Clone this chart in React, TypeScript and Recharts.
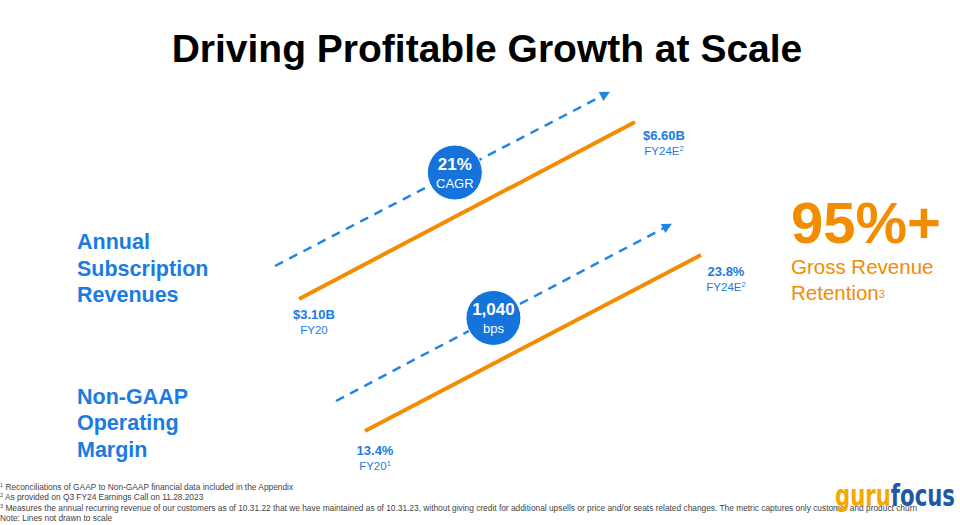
import React from "react";
import { LineChart, Line, XAxis, YAxis, ReferenceDot } from "recharts";

// ---- data ----
const PERIODS = ["FY20", "FY24E"];
const YEARS = [2020, 2024];
const REVENUE = [3.1, 6.6];
const REVENUE_LABELS = ["$3.10B", "$6.60B"];
const REVENUE_NOTES = ["", "2"];
const MARGIN = [13.4, 23.8];
const MARGIN_LABELS = ["13.4%", "23.8%"];
const MARGIN_NOTES = ["1", "2"];
const BADGE_VALUES = ["21%", "1,040"];
const BADGE_UNITS = ["CAGR", "bps"];
const ROW_TITLES = [
  ["Annual", "Subscription", "Revenues"],
  ["Non-GAAP", "Operating", "Margin"],
];
const FOOTNOTES = [
  ["1", "Reconciliations of GAAP to Non-GAAP financial data included in the Appendix"],
  ["2", "As provided on Q3 FY24 Earnings Call on 11.28.2023"],
  [
    "3",
    "Measures the annual recurring revenue of our customers as of 10.31.22 that we have maintained as of 10.31.23, without giving credit for additional upsells or price and/or seats related changes. The metric captures only customer and product churn",
  ],
  ["", "Note: Lines not drawn to scale"],
];

const FONT = "'Liberation Sans', Arial, sans-serif";
const BLUE = "#1a7be2";
const BADGE = "#1474dc";
const DASH = "#1f86e6";
const ORANGE = "#f28c00";

type Pt = [number, number];
interface RowLayout {
  box: { left: number; top: number; right: number; bottom: number };
  line: [Pt, Pt];
  trend: [Pt, Pt];
  badgeAt: number;
  start: { dx: number; dy: number };
  end: { dx: number; dy: number };
}

// where each row sits on the slide (pixels)
const LAYOUTS: RowLayout[] = [
  {
    box: { left: 260, top: 80, right: 720, bottom: 320 },
    line: [[299, 299], [635, 122]],
    trend: [[275, 266], [602, 96]],
    badgeAt: 0.55,
    start: { dx: 15, dy: 20 },
    end: { dx: 29, dy: 18 },
  },
  {
    box: { left: 320, top: 210, right: 780, bottom: 450 },
    line: [[365, 431], [701, 255]],
    trend: [[336, 401], [664, 228]],
    badgeAt: 0.48,
    start: { dx: 10, dy: 24 },
    end: { dx: 25, dy: 21 },
  },
];

// domain value at pixel a and b given two values pinned to two pixels
function domainAt(v0: number, v1: number, p0: number, p1: number, a: number, b: number): [number, number] {
  const k = (p1 - p0) / (v1 - v0);
  return [v0 + (a - p0) / k, v0 + (b - p0) / k];
}

interface RowProps {
  values: number[];
  labels: string[];
  notes: string[];
  badgeValue: string;
  badgeUnit: string;
  layout: RowLayout;
}

function GrowthRow({ values, labels, notes, badgeValue, badgeUnit, layout }: RowProps) {
  const data = YEARS.map((year, i) => ({
    year,
    value: values[i],
    label: labels[i],
    period: PERIODS[i],
    note: notes[i],
  }));
  const { box, line, trend } = layout;
  const margin = { left: box.left, top: box.top, right: 960 - box.right, bottom: 525 - box.bottom };

  const xMain = domainAt(YEARS[0], YEARS[1], line[0][0], line[1][0], box.left, box.right);
  const yMain = domainAt(values[0], values[1], line[0][1], line[1][1], box.bottom, box.top);
  const xTrend = domainAt(YEARS[0], YEARS[1], trend[0][0], trend[1][0], box.left, box.right);
  const yTrend = domainAt(values[0], values[1], trend[0][1], trend[1][1], box.bottom, box.top);

  const dx = trend[1][0] - trend[0][0];
  const dy = trend[1][1] - trend[0][1];
  const len = Math.hypot(dx, dy);
  const ux = dx / len;
  const uy = dy / len;

  const badgeYear = YEARS[0] + (YEARS[1] - YEARS[0]) * layout.badgeAt;
  const badgeVal = values[0] + (values[1] - values[0]) * layout.badgeAt;

  const renderArrow = (p: any) => {
    if (p.index !== data.length - 1) return <g key={`a-${p.index}`} />;
    const { cx, cy } = p;
    const tip = [cx + ux * 9, cy + uy * 9];
    const b1 = [cx - ux * 1 - uy * 5, cy - uy * 1 + ux * 5];
    const b2 = [cx - ux * 1 + uy * 5, cy - uy * 1 - ux * 5];
    return (
      <polygon
        key={`a-${p.index}`}
        points={`${tip[0]},${tip[1]} ${b1[0]},${b1[1]} ${b2[0]},${b2[1]}`}
        fill={DASH}
      />
    );
  };

  const renderLabel = (p: any) => {
    const { cx, cy, index, payload } = p;
    const off = index === 0 ? layout.start : layout.end;
    const x = cx + off.dx;
    const y = cy + off.dy;
    return (
      <g key={`l-${index}`} fontFamily={FONT}>
        <text x={x} y={y} textAnchor="middle" fontSize={13} fontWeight={700} fill={BLUE}>
          {payload.label}
        </text>
        <text x={x} y={y + 15} textAnchor="middle" fontSize={11.5} fill={BLUE}>
          {payload.period}
          {payload.note ? (
            <tspan fontSize={7.5} dy={-4}>
              {payload.note}
            </tspan>
          ) : null}
        </text>
      </g>
    );
  };

  return (
    <div style={{ position: "absolute", left: 0, top: 0 }}>
      <LineChart width={960} height={525} data={data} margin={margin}>
        <XAxis xAxisId="main" dataKey="year" type="number" domain={xMain} hide />
        <YAxis yAxisId="main" type="number" domain={yMain} hide />
        <XAxis xAxisId="trend" dataKey="year" type="number" domain={xTrend} hide />
        <YAxis yAxisId="trend" type="number" domain={yTrend} hide />
        <Line
          xAxisId="trend"
          yAxisId="trend"
          dataKey="value"
          stroke={DASH}
          strokeWidth={2.5}
          strokeDasharray="9 7"
          dot={renderArrow}
          activeDot={false}
          isAnimationActive={false}
        />
        <Line
          xAxisId="main"
          yAxisId="main"
          dataKey="value"
          stroke={ORANGE}
          strokeWidth={4}
          dot={renderLabel}
          activeDot={false}
          isAnimationActive={false}
        />
        <ReferenceDot
          xAxisId="trend"
          yAxisId="trend"
          x={badgeYear}
          y={badgeVal}
          r={28}
          shape={(s: any) => (
            <g fontFamily={FONT}>
              <circle cx={s.cx} cy={s.cy} r={27.5} fill={BADGE} stroke="#ffffff" strokeWidth={1} />
              <text x={s.cx} y={s.cy - 3} textAnchor="middle" fontSize={17} fontWeight={700} fill="#fff">
                {badgeValue}
              </text>
              <text x={s.cx} y={s.cy + 15} textAnchor="middle" fontSize={13} fill="#fff">
                {badgeUnit}
              </text>
            </g>
          )}
        />
      </LineChart>
    </div>
  );
}

export default function App() {
  const titleBaselines = [
    [249, 276, 302],
    [404, 430, 457],
  ];
  return (
    <div
      style={{
        position: "fixed",
        left: 0,
        top: 0,
        width: 960,
        height: 525,
        overflow: "hidden",
        background: "#fff",
        fontFamily: FONT,
      }}
    >
      <svg width={960} height={525} style={{ position: "absolute", left: 0, top: 0 }} fontFamily={FONT}>
        <text x={487} y={62} textAnchor="middle" fontSize={39} fontWeight={700} fill="#000">
          Driving Profitable Growth at Scale
        </text>
        {ROW_TITLES.map((lines, r) =>
          lines.map((t, i) => (
            <text key={`${r}-${i}`} x={77} y={titleBaselines[r][i]} fontSize={21.5} fontWeight={700} fill={BLUE}>
              {t}
            </text>
          ))
        )}
        <text x={791} y={243} fontSize={58} fontWeight={700} fill={ORANGE}>
          95%+
        </text>
        <text x={791} y={274} fontSize={20.5} fill={ORANGE}>
          Gross Revenue
        </text>
        <text x={791} y={300} fontSize={20.5} fill={ORANGE}>
          Retention
          <tspan fontSize={11} dy={-2}>
            3
          </tspan>
        </text>
        {FOOTNOTES.map(([n, t], i) => (
          <text key={i} x={0} y={490 + i * 10.3} fontSize={8.35} fill="#444">
            {n ? (
              <tspan fontSize={5.5} dy={-3}>
                {n}
              </tspan>
            ) : null}
            <tspan dy={n ? 3 : 0}>{n ? " " + t : t}</tspan>
          </text>
        ))}
      </svg>

      <GrowthRow
        values={REVENUE}
        labels={REVENUE_LABELS}
        notes={REVENUE_NOTES}
        badgeValue={BADGE_VALUES[0]}
        badgeUnit={BADGE_UNITS[0]}
        layout={LAYOUTS[0]}
      />
      <GrowthRow
        values={MARGIN}
        labels={MARGIN_LABELS}
        notes={MARGIN_NOTES}
        badgeValue={BADGE_VALUES[1]}
        badgeUnit={BADGE_UNITS[1]}
        layout={LAYOUTS[1]}
      />

      <svg width={960} height={525} style={{ position: "absolute", left: 0, top: 0 }}>
        <text
          x={835}
          y={506}
          fontFamily="'DejaVu Sans', sans-serif"
          fontSize={31}
          fontWeight={700}
          textLength={120}
          lengthAdjust="spacingAndGlyphs"
        >
          <tspan fill="#f6a800">guru</tspan>
          <tspan fill="#1d5aa6">focus</tspan>
        </text>
      </svg>
    </div>
  );
}
